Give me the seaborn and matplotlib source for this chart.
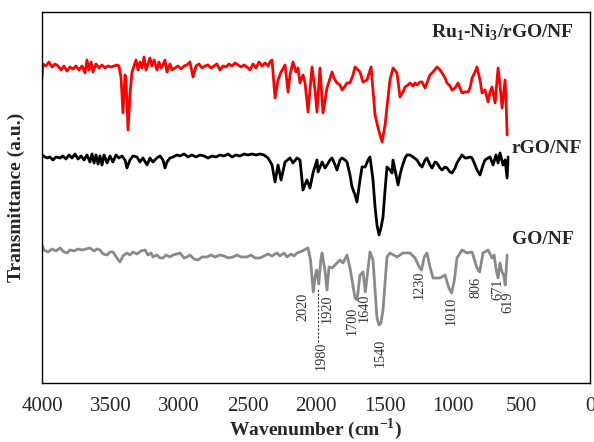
import matplotlib
matplotlib.use("Agg")
import matplotlib.pyplot as plt
import seaborn as sns
import pandas as pd

# FTIR spectra, stacked with vertical offsets (wavenumber in cm-1, transmittance in a.u.)
ru_ni_rgo_nf = [
    (4000, 322), (3993, 336), (3971, 334), (3949, 338), (3927, 333), (3905, 336), (3883, 334), (3861, 330), (3839, 334), (3818, 329),
    (3796, 333), (3774, 331), (3752, 334), (3730, 330), (3708, 334), (3686, 327), (3672, 340), (3657, 330), (3642, 338), (3628, 328),
    (3606, 336), (3584, 332), (3562, 335), (3540, 332), (3518, 334), (3496, 333), (3474, 334), (3453, 335), (3438, 334), (3423, 322),
    (3409, 287), (3394, 325), (3387, 320), (3372, 270), (3358, 305), (3343, 328), (3328, 334), (3314, 340), (3299, 330), (3285, 338),
    (3270, 332), (3255, 343), (3241, 330), (3226, 336), (3212, 342), (3197, 334), (3182, 340), (3161, 330), (3146, 338), (3131, 332),
    (3117, 335), (3102, 340), (3088, 328), (3066, 336), (3051, 330), (3029, 332), (3007, 334), (2985, 331), (2963, 334), (2942, 335),
    (2920, 338), (2898, 323), (2876, 334), (2854, 336), (2832, 332), (2810, 334), (2788, 335), (2766, 332), (2744, 334), (2723, 336),
    (2701, 330), (2679, 334), (2657, 333), (2635, 336), (2613, 334), (2591, 337), (2569, 335), (2547, 333), (2525, 335), (2504, 333),
    (2482, 330), (2460, 336), (2438, 332), (2416, 338), (2394, 334), (2372, 337), (2350, 334), (2336, 338), (2321, 340), (2299, 302),
    (2277, 320), (2255, 328), (2226, 335), (2204, 308), (2190, 325), (2168, 338), (2146, 328), (2131, 332), (2117, 317), (2095, 325),
    (2080, 317), (2058, 288), (2029, 333), (2007, 310), (1993, 288), (1971, 332), (1949, 287), (1920, 312), (1883, 328), (1869, 322),
    (1847, 317), (1825, 315), (1810, 310), (1788, 314), (1774, 317), (1752, 317), (1730, 325), (1715, 333), (1693, 330), (1679, 328),
    (1657, 318), (1628, 320), (1598, 333), (1569, 285), (1547, 272), (1518, 258), (1496, 275), (1482, 293), (1460, 320), (1438, 332),
    (1409, 327), (1387, 303), (1365, 308), (1350, 313), (1328, 315), (1314, 317), (1292, 314), (1277, 317), (1263, 315), (1241, 318),
    (1226, 318), (1204, 312), (1182, 320), (1168, 325), (1146, 328), (1117, 333), (1095, 330), (1080, 327), (1058, 322), (1044, 317),
    (1022, 314), (1007, 310), (985, 312), (963, 317), (949, 312), (934, 307), (912, 308), (890, 308), (876, 312), (861, 322),
    (839, 328), (825, 333), (803, 320), (788, 307), (766, 310), (744, 298), (730, 308), (715, 313), (693, 297), (671, 332),
    (657, 315), (642, 292), (620, 320), (613, 300), (605, 265),
]

rgo_nf = [
    (4000, 245), (3978, 243), (3963, 242), (3942, 243), (3920, 240), (3898, 243), (3869, 242), (3847, 244), (3825, 241), (3803, 245),
    (3781, 242), (3759, 246), (3737, 241), (3715, 244), (3693, 240), (3672, 245), (3650, 238), (3635, 246), (3620, 237), (3606, 245),
    (3591, 236), (3577, 244), (3562, 235), (3547, 245), (3525, 237), (3504, 244), (3482, 238), (3460, 245), (3438, 242), (3416, 244),
    (3394, 240), (3380, 232), (3358, 240), (3336, 244), (3307, 243), (3285, 238), (3263, 242), (3233, 235), (3212, 242), (3190, 238),
    (3161, 242), (3139, 244), (3117, 240), (3102, 232), (3088, 238), (3066, 242), (3044, 243), (3015, 245), (2993, 244), (2963, 246),
    (2934, 243), (2905, 245), (2876, 243), (2847, 245), (2817, 244), (2788, 242), (2759, 244), (2730, 243), (2701, 245), (2671, 244),
    (2642, 246), (2613, 243), (2584, 245), (2555, 244), (2525, 246), (2496, 245), (2467, 246), (2438, 245), (2409, 246), (2380, 245),
    (2350, 242), (2321, 235), (2299, 218), (2277, 235), (2255, 220), (2226, 238), (2190, 242), (2168, 237), (2139, 242), (2117, 240),
    (2095, 210), (2066, 220), (2044, 212), (2022, 227), (1993, 240), (1985, 228), (1956, 238), (1934, 232), (1920, 235), (1898, 240),
    (1883, 242), (1861, 235), (1847, 230), (1825, 240), (1810, 242), (1788, 240), (1774, 238), (1752, 225), (1737, 213), (1715, 205),
    (1701, 198), (1679, 220), (1664, 233), (1642, 233), (1620, 240), (1606, 243), (1584, 220), (1569, 193), (1555, 175), (1540, 165),
    (1526, 172), (1511, 183), (1496, 210), (1482, 233), (1460, 230), (1445, 227), (1438, 240), (1416, 225), (1401, 215), (1387, 225),
    (1372, 233), (1350, 242), (1336, 245), (1314, 245), (1292, 243), (1263, 240), (1241, 235), (1226, 233), (1204, 240), (1190, 242),
    (1168, 235), (1153, 232), (1131, 238), (1117, 237), (1095, 232), (1080, 230), (1058, 233), (1044, 232), (1022, 228), (1007, 227),
    (985, 232), (971, 237), (949, 242), (934, 245), (912, 242), (898, 242), (876, 243), (861, 242), (839, 235), (825, 230),
    (803, 225), (781, 235), (766, 240), (744, 242), (730, 243), (708, 235), (686, 245), (671, 237), (657, 247), (635, 235),
    (620, 240), (605, 222), (598, 243),
]

go_nf = [
    (4000, 155), (3985, 150), (3956, 148), (3927, 151), (3898, 149), (3869, 152), (3839, 148), (3818, 147), (3796, 150), (3767, 149),
    (3737, 151), (3708, 150), (3679, 151), (3650, 152), (3620, 149), (3599, 151), (3577, 150), (3555, 146), (3525, 145), (3504, 148),
    (3482, 148), (3453, 142), (3431, 138), (3409, 144), (3380, 147), (3358, 145), (3336, 148), (3307, 146), (3277, 149), (3248, 150),
    (3226, 145), (3204, 147), (3190, 143), (3161, 145), (3139, 142), (3117, 142), (3095, 145), (3066, 143), (3044, 145), (3015, 146),
    (2993, 147), (2963, 142), (2942, 143), (2920, 145), (2890, 141), (2861, 140), (2832, 143), (2796, 143), (2766, 145), (2737, 143),
    (2701, 145), (2671, 144), (2642, 142), (2606, 143), (2577, 145), (2547, 143), (2504, 143), (2474, 145), (2445, 142), (2409, 142),
    (2380, 144), (2350, 146), (2321, 144), (2285, 147), (2263, 144), (2233, 147), (2212, 143), (2182, 146), (2160, 144), (2139, 147),
    (2117, 148), (2088, 150), (2058, 152), (2040, 140), (2020, 108), (2005, 125), (1995, 130), (1980, 116), (1965, 140), (1956, 147),
    (1935, 130), (1920, 110), (1905, 133), (1883, 132), (1847, 137), (1825, 140), (1803, 137), (1774, 145), (1752, 132), (1715, 102),
    (1700, 100), (1679, 125), (1657, 128), (1640, 108), (1606, 148), (1584, 140), (1555, 82), (1540, 75), (1526, 77), (1511, 90),
    (1482, 143), (1460, 147), (1409, 143), (1365, 147), (1314, 147), (1277, 142), (1250, 134), (1230, 130), (1210, 143), (1190, 147),
    (1168, 133), (1146, 122), (1117, 122), (1095, 122), (1058, 125), (1030, 112), (1010, 107), (990, 120), (971, 142), (934, 150),
    (898, 147), (861, 148), (825, 132), (806, 128), (781, 147), (744, 150), (715, 142), (700, 145), (685, 130), (671, 122),
    (657, 137), (642, 128), (630, 125), (619, 115), (605, 145),
]

sample_names = [r"Ru$_{\mathbf{1}}$-Ni$_{\mathbf{3}}$/rGO/NF", "rGO/NF", "GO/NF"]
line_colors = ["#ff0000", "#000000", "#8a8a8a"]

peak_labels = ["2020", "1980", "1920", "1700", "1640", "1540", "1230", "1010", "806", "671", "619"]
x_ticks = [4000, 3500, 3000, 2500, 2000, 1500, 1000, 500, 0]

# layout of text (wavenumber, transmittance) for each peak label
peak_label_pos = {
    "2020": (2095, 93), "1980": (1963, 44), "1920": (1920, 91), "1700": (1737, 79),
    "1640": (1650, 92), "1540": (1533, 47), "1230": (1248, 115), "1010": (1014, 89),
    "806": (832, 113), "671": (676, 111), "619": (602, 98),
}
name_pos = [(116, 367, "right"), (576, 251, "left"), (569, 160, "left")]

sns.set_style("white")
plt.rcParams["font.family"] = ["Liberation Serif", "DejaVu Serif"]
plt.rcParams["mathtext.fontset"] = "custom"
plt.rcParams["mathtext.rm"] = "Liberation Serif"
plt.rcParams["mathtext.bf"] = "Liberation Serif:bold"

fig, ax = plt.subplots(figsize=(5.94, 4.42), dpi=100)
fig.subplots_adjust(left=0.0707, right=0.9933, top=0.9729, bottom=0.1335)

spectra = [ru_ni_rgo_nf, rgo_nf, go_nf]
for pts, color in zip(spectra[::-1], line_colors[::-1]):
    df = pd.DataFrame(pts, columns=["wavenumber", "transmittance"])
    sns.lineplot(data=df, x="wavenumber", y="transmittance", color=color,
                 linewidth=2.0, estimator=None, sort=False, ax=ax)

for name, (x, y, ha) in zip(sample_names, name_pos):
    ax.text(x, y, name, ha=ha, va="center", fontsize=14, fontweight="bold")

for lab in peak_labels:
    x, y = peak_label_pos[lab]
    ax.text(x, y, lab, rotation=90, ha="center", va="center", fontsize=10.3, color="#333333")

# leader from the 1980 label up to its band
ax.plot([1985, 1985], [58, 112], color="#333333", lw=0.8, ls=(0, (2, 1.5)))

ax.set_xlim(4000, 0)
ax.set_ylim(17, 388)
ax.set_xticks(x_ticks)
ax.set_xticklabels([str(t) for t in x_ticks])
ax.set_yticks([])
ax.tick_params(axis="x", direction="in", length=5, width=1, labelsize=15, pad=10, color="black")
for sp in ax.spines.values():
    sp.set_visible(True)
    sp.set_color("black")
    sp.set_linewidth(1.0)

ax.set_xlabel(r"Wavenumber (cm$^{\mathbf{-1}}$)", fontsize=14, fontweight="bold", labelpad=0)
ax.set_ylabel("Transmittance (a.u.)", fontsize=14, fontweight="bold", labelpad=12)

fig.savefig("out.png", dpi=100)
